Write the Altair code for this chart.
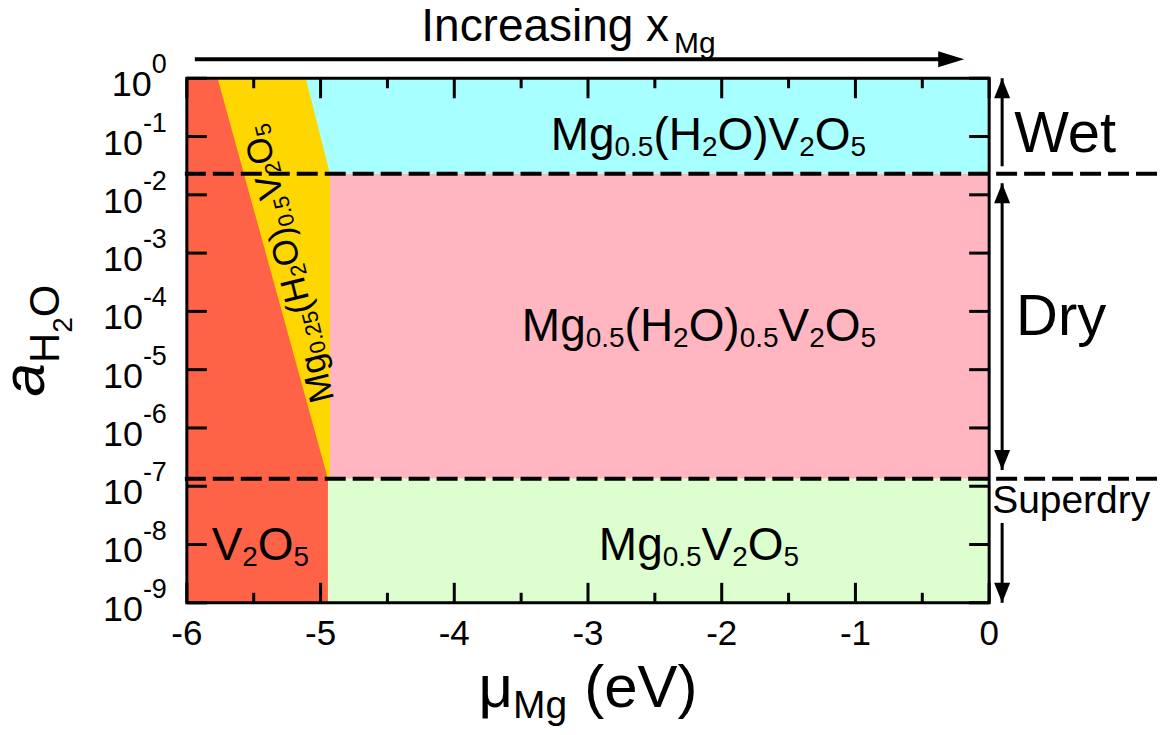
import altair as alt
import pandas as pd

FONT = "Liberation Sans"

# ---------------- data ----------------
x_domain = [-6, 0]
y_domain = [1e-9, 1.0]

wet_dry_boundary = 10 ** -1.64        # a_H2O separating wet / dry
dry_superdry_boundary = 10 ** -6.87   # a_H2O separating dry / superdry

# V2O5 / Mg0.25(H2O)0.5V2O5 (red) boundary
red_a = [1.0, dry_superdry_boundary, 1e-9]
red_x = [-5.77, -4.945, -4.945]
# Mg0.25(H2O)0.5V2O5 (yellow) right boundary
yel_a = [1.0, wet_dry_boundary, dry_superdry_boundary]
yel_x = [-5.11, -4.93, -4.93]

band_names = ["Mg0.5(H2O)V2O5", "Mg0.5(H2O)0.5V2O5", "Mg0.5V2O5"]
band_lo = [wet_dry_boundary, dry_superdry_boundary, 1e-9]
band_hi = [1.0, wet_dry_boundary, dry_superdry_boundary]
band_colors = ["#A8FFFF", "#FFB6C1", "#DDFFD0"]
red_color = "#FF6347"
yellow_color = "#FFD700"

x_major = [-6, -5, -4, -3, -2, -1, 0]
x_major_text = ["-6", "-5", "-4", "-3", "-2", "-1", "0"]
x_minor = [-5.5, -4.5, -3.5, -2.5, -1.5, -0.5]
y_exps = [0, -1, -2, -3, -4, -5, -6, -7, -8, -9]

# regime arrows on the right: (top, bottom)
arrow_top = [1.0, 10 ** -1.80, 10 ** -7.63]
arrow_bottom = [10 ** -1.51, 10 ** -6.72, 1e-9]
heads_up = [1.0, 10 ** -1.80]
heads_down = [10 ** -6.72, 1e-9]

W, H = 803, 525

xscale = alt.Scale(domain=x_domain, nice=False, zero=False)
yscale = alt.Scale(type="log", domain=y_domain, nice=False)

def X(field=None, datum=None):
    if datum is not None:
        return alt.X(datum=datum, type="quantitative", scale=xscale, axis=None)
    return alt.X(field, type="quantitative", scale=xscale, axis=None)

def Y(field=None, datum=None):
    if datum is not None:
        return alt.Y(datum=datum, type="quantitative", scale=yscale, axis=None)
    return alt.Y(field, type="quantitative", scale=yscale, axis=None)

one = pd.DataFrame({"k": [0]})

CW = {' ': .278, '(': .333, ')': .333, '.': .278, '-': .333, 'M': .833,
      'g': .556, 'H': .722, 'O': .778, 'V': .667, 'I': .278, 'n': .556, 'c': .5, 'r': .333,
      'e': .556, 'a': .556, 's': .5, 'i': .222, 'x': .5, 'W': .944, 't': .278,
      'D': .722, 'y': .5, 'S': .667, 'u': .556, 'p': .556, 'd': .556, 'μ': .576}

def tw(t, size):
    return sum(CW.get(c, .556) for c in t) * size

def rich(xe, ye, segs, angle=0, center=True):
    """segments: (text, fontSize, baseline shift, [gap before], [style])"""
    total = sum(tw(s[0], s[1]) + (s[3] if len(s) > 3 else 0) for s in segs)
    pos = -total / 2 if center else 0
    out = []
    for seg in segs:
        t, size, shift = seg[0], seg[1], seg[2]
        gap = seg[3] if len(seg) > 3 else 0
        pos += gap
        kw = dict(align="left", baseline="alphabetic", dx=pos, dy=shift,
                  fontSize=size, font=FONT, color="black")
        if angle:
            kw["angle"] = angle
        if len(seg) > 4:
            kw["fontStyle"] = seg[4]
        out.append(alt.Chart(one).mark_text(**kw).encode(x=xe, y=ye, text=alt.value(t)))
        pos += tw(t, size)
    return out

layers = []

# ---------------- regions ----------------
bands = pd.DataFrame({"name": band_names, "lo": band_lo, "hi": band_hi,
                      "x0": [x_domain[0]] * 3, "x1": [x_domain[1]] * 3})
layers.append(
    alt.Chart(bands).mark_rect().encode(
        x=X("x0"), x2="x1", y=Y("lo"), y2="hi",
        color=alt.Color("name:N", scale=alt.Scale(domain=band_names, range=band_colors), legend=None),
    )
)
yel = pd.DataFrame({"a": yel_a, "x0": [x_domain[0]] * 3, "x1": yel_x})
layers.append(
    alt.Chart(yel).mark_area(orient="horizontal", color=yellow_color, opacity=1).encode(
        y=Y("a"), x=X("x0"), x2="x1")
)
red = pd.DataFrame({"a": red_a, "x0": [x_domain[0]] * 3, "x1": red_x})
layers.append(
    alt.Chart(red).mark_area(orient="horizontal", color=red_color, opacity=1).encode(
        y=Y("a"), x=X("x0"), x2="x1")
)

# ---------------- dashed regime lines ----------------
dash = pd.DataFrame({"a": [wet_dry_boundary, dry_superdry_boundary]})
layers.append(
    alt.Chart(dash).mark_rule(color="black", strokeWidth=4, strokeDash=[21, 7]).encode(
        y=Y("a"), x=alt.value(-2), x2=alt.value(973))
)

# ---------------- frame ----------------
layers.append(
    alt.Chart(one).mark_rect(filled=False, stroke="black", strokeWidth=3).encode(
        x=X(datum=x_domain[0]), x2=alt.X2(datum=x_domain[1]),
        y=Y(datum=y_domain[0]), y2=alt.Y2(datum=y_domain[1]))
)

# ---------------- ticks (inward, mirrored) ----------------
xm = pd.DataFrame({"v": x_major})
xn = pd.DataFrame({"v": x_minor})
yt = pd.DataFrame({"v": [10.0 ** e for e in y_exps]})
tick = dict(color="black", strokeWidth=3)
layers += [
    alt.Chart(xm).mark_rule(**tick).encode(x=X("v"), y=alt.value(H), y2=alt.value(H - 20)),
    alt.Chart(xm).mark_rule(**tick).encode(x=X("v"), y=alt.value(0), y2=alt.value(20)),
    alt.Chart(xn).mark_rule(**tick).encode(x=X("v"), y=alt.value(H), y2=alt.value(H - 10)),
    alt.Chart(xn).mark_rule(**tick).encode(x=X("v"), y=alt.value(0), y2=alt.value(10)),
    alt.Chart(yt).mark_rule(**tick).encode(y=Y("v"), x=alt.value(0), x2=alt.value(20)),
    alt.Chart(yt).mark_rule(**tick).encode(y=Y("v"), x=alt.value(W), x2=alt.value(W - 20)),
]

# ---------------- tick labels ----------------
xl = pd.DataFrame({"v": x_major, "t": x_major_text})
layers.append(
    alt.Chart(xl).mark_text(font=FONT, fontSize=35, align="center", baseline="alphabetic", color="black").encode(
        x=X("v"), y=alt.value(H + 42), text="t:N")
)
TF, EF = 36, 27
for e in y_exps:
    es = str(e)
    layers.append(
        alt.Chart(one).mark_text(font=FONT, fontSize=TF, align="right", baseline="alphabetic",
                                 dx=-20 - tw(es, EF), dy=18, color="black").encode(
            x=alt.value(0), y=Y(datum=10.0 ** e), text=alt.value("10"))
    )
    layers.append(
        alt.Chart(one).mark_text(font=FONT, fontSize=EF, align="right", baseline="alphabetic",
                                 dx=-20, dy=-5, color="black").encode(
            x=alt.value(0), y=Y(datum=10.0 ** e), text=alt.value(es))
    )

# ---------------- region labels ----------------
F, f, s = 46, 28, 6
layers += rich(X(datum=-2.1), Y(datum=10 ** -1.23),
               [("Mg", F, 0), ("0.5", f, s), ("(H", F, 0), ("2", f, s), ("O)V", F, 0),
                ("2", f, s), ("O", F, 0), ("5", f, s)])
layers += rich(X(datum=-2.17), Y(datum=10 ** -4.51),
               [("Mg", F, 0), ("0.5", f, s), ("(H", F, 0), ("2", f, s), ("O)", F, 0),
                ("0.5", f, s), ("V", F, 0), ("2", f, s), ("O", F, 0), ("5", f, s)])
layers += rich(X(datum=-2.17), Y(datum=10 ** -8.26),
               [("Mg", F, 0), ("0.5", f, s), ("V", F, 0), ("2", f, s), ("O", F, 0), ("5", f, s)])
layers += rich(X(datum=-5.45), Y(datum=10 ** -8.26),
               [("V", F, 0), ("2", f, s), ("O", F, 0), ("5", f, s)])
F2, f2, s2 = 35, 22, 4
layers += rich(X(datum=-5.156), Y(datum=10 ** -3.137),
               [("Mg", F2, 0), ("0.25", f2, s2), ("(H", F2, 0), ("2", f2, s2), ("O)", F2, 0),
                ("0.5", f2, s2), ("V", F2, 0), ("2", f2, s2), ("O", F2, 0), ("5", f2, s2)],
               angle=256)

# ---------------- axis titles ----------------
layers += rich(alt.value(W / 2), alt.value(629),
               [("μ", 60, 0), ("Mg", 39, 11), ("(eV)", 60, 0, 17)])
layers += rich(alt.value(-143), alt.value(H / 2),
               [("a", 60, 0, 0, "italic"), ("H", 42, 15), ("2", 28, 28), ("O", 42, 15)], angle=270)

# ---------------- top arrow ----------------
layers += rich(alt.value(382), alt.value(-37), [("Increasing x", 46, 0), ("Mg", 30, 12, 5)])
layers.append(
    alt.Chart(one).mark_rule(color="black", strokeWidth=4).encode(
        x=alt.value(8), x2=alt.value(770), y=alt.value(-19))
)
layers.append(
    alt.Chart(one).mark_point(shape="M0,0 L-26,-8 L-26,8 Z", size=4, filled=True,
                              color="black", opacity=1, strokeWidth=0).encode(
        x=alt.value(778), y=alt.value(-19))
)

# ---------------- regime arrows on the right ----------------
arr = pd.DataFrame({"top": arrow_top, "bottom": arrow_bottom})
layers.append(
    alt.Chart(arr).mark_rule(color="black", strokeWidth=3).encode(
        x=alt.value(816), y=Y("top"), y2="bottom")
)
layers.append(
    alt.Chart(pd.DataFrame({"a": heads_up})).mark_point(
        shape="M0,0 L-8,20 L8,20 Z", size=4, filled=True, color="black", opacity=1, strokeWidth=0).encode(
        x=alt.value(816), y=Y("a"))
)
layers.append(
    alt.Chart(pd.DataFrame({"a": heads_down})).mark_point(
        shape="M0,0 L-8,-20 L8,-20 Z", size=4, filled=True, color="black", opacity=1, strokeWidth=0).encode(
        x=alt.value(816), y=Y("a"))
)
layers += rich(alt.value(828), alt.value(74), [("Wet", 58, 0)], center=False)
layers += rich(alt.value(830), alt.value(257), [("Dry", 58, 0)], center=False)
layers += rich(alt.value(806), alt.value(435), [("Superdry", 39, 0)], center=False)

chart = alt.layer(*layers).properties(
    width=W, height=H,
    autosize=alt.AutoSizeParams(type="none"),
    padding={"left": 179, "top": 70, "right": 170, "bottom": 124},
).configure_view(strokeWidth=0)

chart.save("out.html", embed_options={"renderer": "svg", "actions": False})
